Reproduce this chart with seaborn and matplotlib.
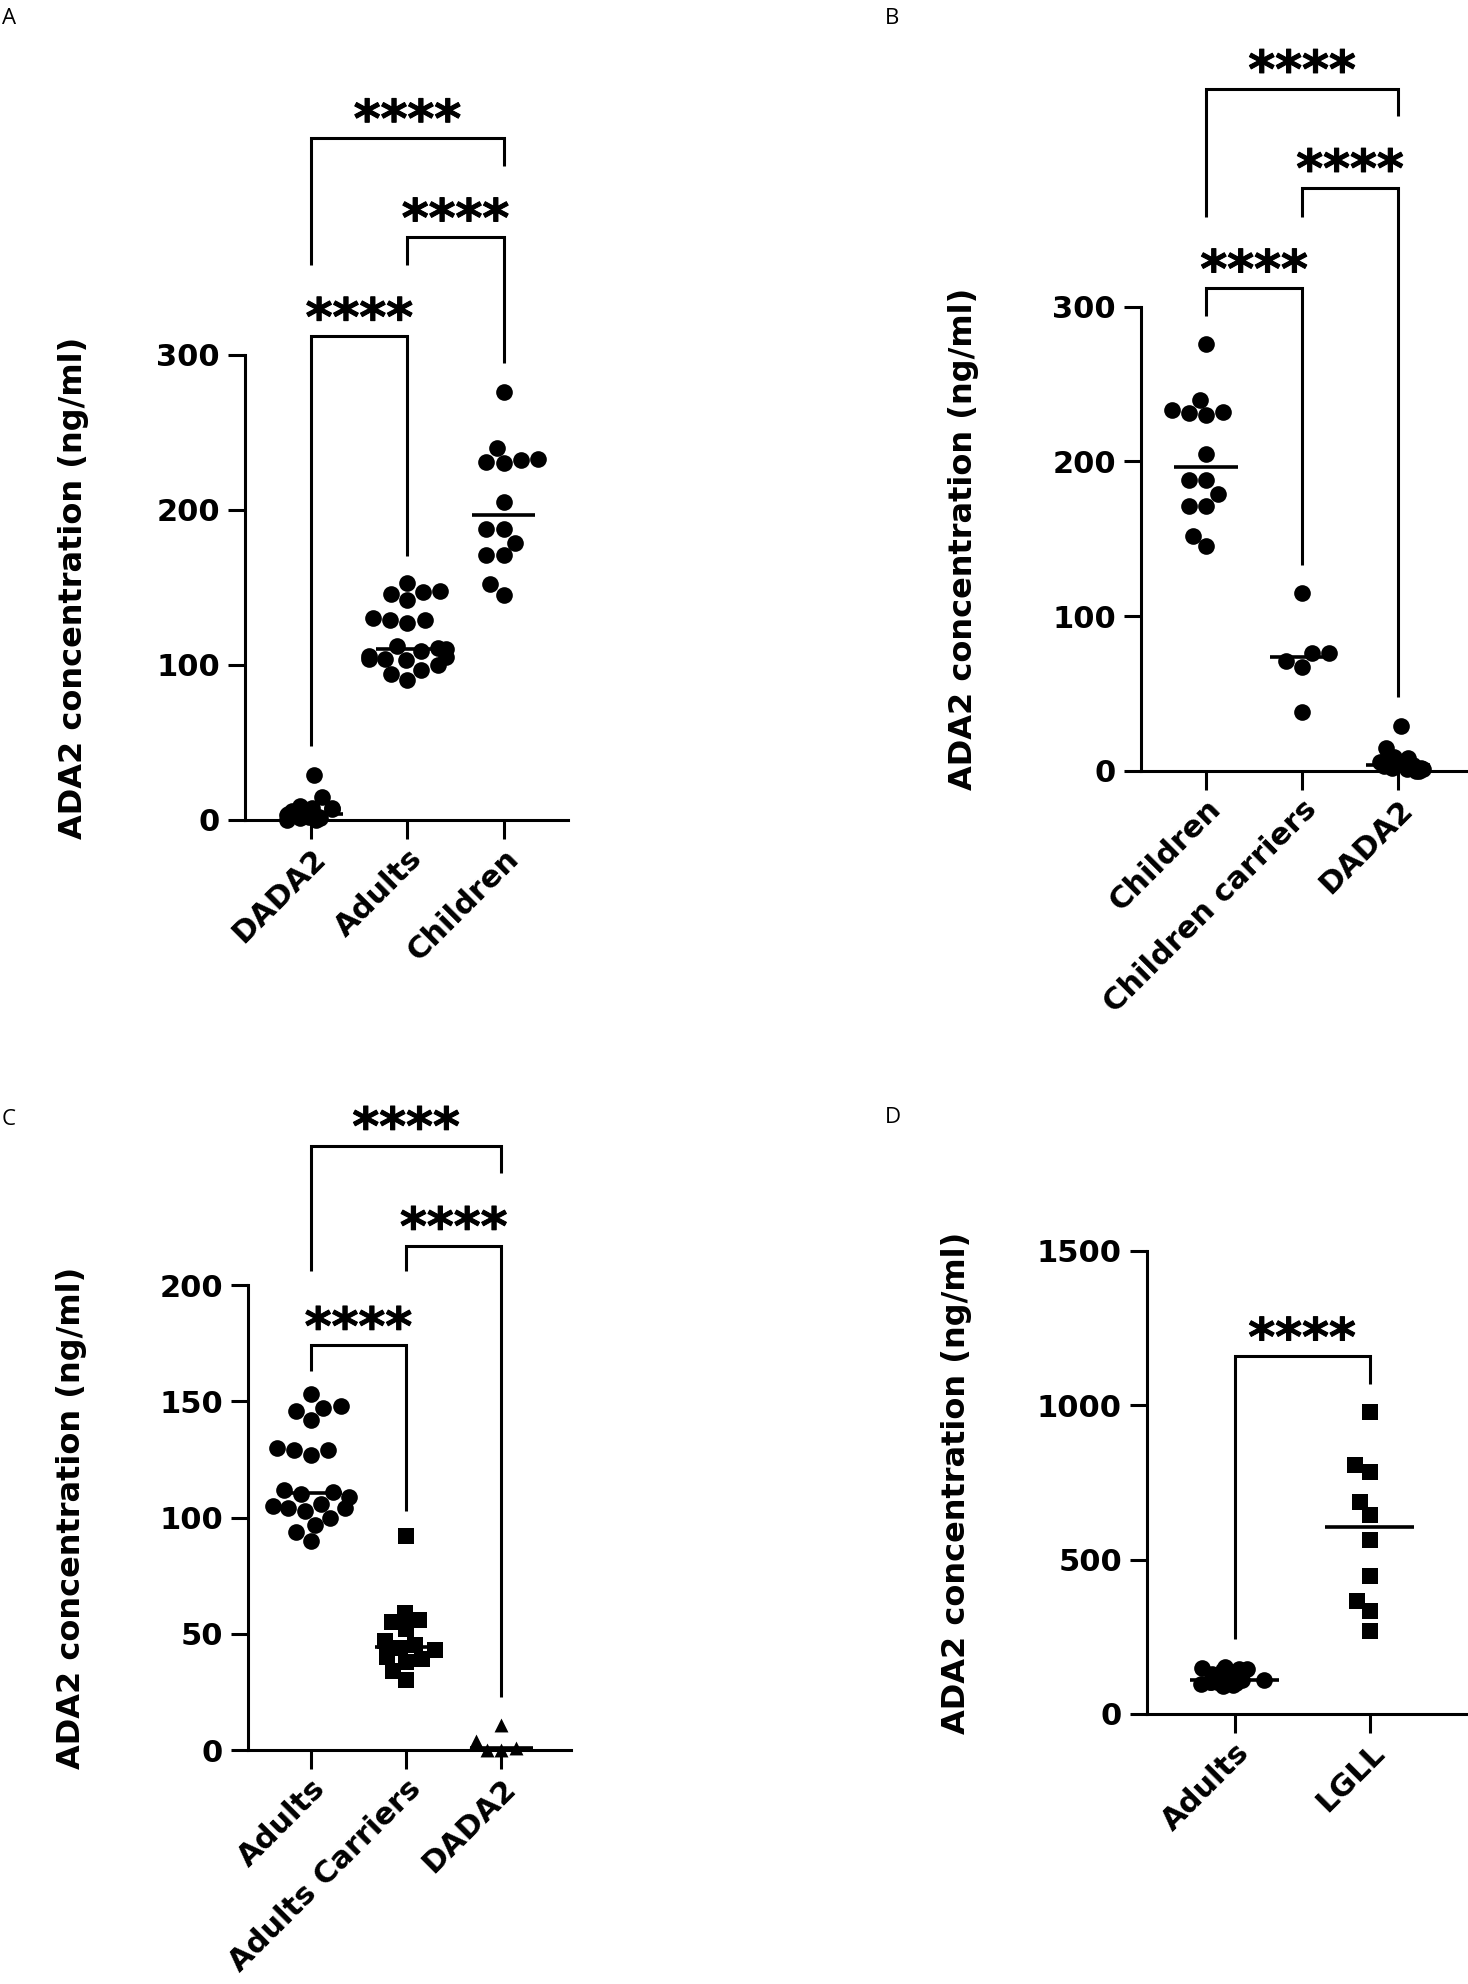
import numpy as np
import pandas as pd
import matplotlib
matplotlib.use("Agg")
import matplotlib.pyplot as plt
import matplotlib.patheffects as pe
import seaborn as sns

# values (ng/ml)
adults = [153, 148, 147, 146, 142, 130, 129, 129, 127, 112, 111, 110, 109, 106, 105,
          104, 104, 103, 100, 97, 94, 90]
children = [276, 240, 233, 232, 231, 230, 205, 188, 188, 179, 171, 171, 152, 145]
dada2 = [29, 15, 9, 8, 8, 7, 6, 5, 4, 4, 3, 2, 2, 1, 1, 0, 0]
children_carriers = [115, 76, 76, 71, 67, 38]
adults_carriers = [92, 59, 56, 55, 52, 47, 45, 44, 43, 40, 39, 38, 34, 30]
dada2_small = [11, 4, 1, 0, 0]
lgll = [979, 807, 784, 686, 646, 565, 446, 367, 335, 270]

groups_a = ["DADA2", "Adults", "Children"]
groups_b = ["Children", "Children carriers", "DADA2"]
groups_c = ["Adults", "Adults Carriers", "DADA2"]
groups_d = ["Adults", "LGLL"]

yticks_a = [0, 100, 200, 300]
yticks_c = [0, 50, 100, 150, 200]
yticks_d = [0, 500, 1000, 1500]

# significance brackets: (group i, group j, bar height, leg end i, leg end j)
brackets_a = [(0, 1, 312, 48, 170), (1, 2, 376, 358, 295), (0, 2, 440, 358, 422)]
brackets_b = [(0, 1, 312, 294, 133), (1, 2, 377, 358, 48), (0, 2, 441, 358, 423)]
brackets_c = [(0, 1, 174, 163, 103), (1, 2, 217, 206, 23), (0, 2, 260, 206, 248)]
brackets_d = [(0, 1, 1159, 243, 1069)]

sns.set_theme(style="ticks")
plt.rcParams["font.family"] = ["DejaVu Sans"]
plt.rcParams.update({"text.color": "black", "axes.labelcolor": "black",
                     "xtick.color": "black", "ytick.color": "black",
                     "axes.edgecolor": "black"})
np.random.seed(3)

LW = 2.2
MARKER_SIZE = {"o": 12, "s": 11, "^": 10}


def draw_panel(ax, groups, series, markers, yticks, xlim, brackets, label_x,
               packed=None):
    packed = packed or {}
    df = pd.DataFrame({
        "group": np.concatenate([[g] * len(v) for g, v in zip(groups, series)]),
        "value": np.concatenate([np.asarray(v, dtype=float) for v in series]),
    })
    for k, (g, m) in enumerate(zip(groups, markers)):
        sub = df[df["group"] == g]
        if k in packed:
            # dense groups overlap in the original, like a jittered strip
            sns.stripplot(data=sub, x="group", y="value", order=groups,
                          jitter=packed[k], marker=m, size=MARKER_SIZE[m],
                          color="black", linewidth=0, ax=ax)
        else:
            sns.swarmplot(data=sub, x="group", y="value", order=groups,
                          marker=m, size=MARKER_SIZE[m], color="black", linewidth=0,
                          warn_thresh=1, ax=ax)
    for coll in ax.collections:
        coll.set_clip_on(False)
        coll.set_zorder(3)

    # median line
    sns.boxplot(data=df, x="group", y="value", order=groups, width=0.66,
                showbox=False, showcaps=False, showfliers=False,
                whiskerprops={"visible": False},
                medianprops={"color": "black", "linewidth": 2.6, "zorder": 4},
                ax=ax)

    ax.set_xlim(*xlim)
    ax.set_ylim(yticks[0], yticks[-1])
    ax.set_yticks(yticks)
    ax.set_yticklabels([str(t) for t in yticks], fontsize=22, fontweight="bold")
    ax.set_xticks(range(len(groups)))
    ax.set_xticklabels(groups, rotation=45, ha="right", rotation_mode="anchor",
                       fontsize=22, fontweight="bold")
    ax.set_xlabel("")
    ax.set_ylabel("ADA2 concentration (ng/ml)", fontsize=23, fontweight="bold")
    ax.yaxis.set_label_coords(label_x, 0.5)

    sns.despine(ax=ax)
    for side in ["left", "bottom"]:
        ax.spines[side].set_linewidth(LW)
    ax.tick_params(axis="y", length=12, width=LW, pad=6, left=True)
    ax.tick_params(axis="x", length=14, width=LW, pad=3, bottom=True)
    ax.set_facecolor("white")

    for i, j, h, li, lj in brackets:
        ax.plot([i, i, j, j], [li, h, h, lj], color="black", lw=LW, clip_on=False,
                solid_joinstyle="miter", solid_capstyle="butt")
        ax.annotate("****", xy=((i + j) / 2, h), xytext=(0, 1),
                    textcoords="offset points", ha="center", va="baseline",
                    fontsize=37, fontweight="bold", annotation_clip=False,
                    path_effects=[pe.withStroke(linewidth=0.7, foreground="black")])


fig = plt.figure(figsize=(14.68, 19.84), dpi=100)
fig.patch.set_facecolor("white")

ax_a = fig.add_axes([0.1669, 0.5867, 0.2200, 0.2344])
ax_b = fig.add_axes([0.7772, 0.6115, 0.2228, 0.2339])
ax_c = fig.add_axes([0.1689, 0.1179, 0.2200, 0.2344])
ax_d = fig.add_axes([0.7813, 0.1361, 0.2187, 0.2334])

draw_panel(ax_a, groups_a, [dada2, adults, children], ["o", "o", "o"],
           yticks_a, (-0.69, 2.67), brackets_a, -0.483, packed={0: 0.27})
draw_panel(ax_b, groups_b, [children, children_carriers, dada2], ["o", "o", "o"],
           yticks_a, (-0.68, 2.73), brackets_b, -0.496, packed={2: 0.27})
draw_panel(ax_c, groups_c, [adults, adults_carriers, dada2_small], ["o", "s", "^"],
           yticks_c, (-0.66, 2.73), brackets_c, -0.498)
draw_panel(ax_d, groups_d, [adults, lgll], ["o", "s"],
           yticks_d, (-0.65, 1.73), brackets_d, -0.546, packed={0: 0.3})

for letter, x, y in [("A", 0.0014, 0.996), ("B", 0.603, 0.996),
                     ("C", 0.0014, 0.441), ("D", 0.603, 0.442)]:
    fig.text(x, y, letter, fontsize=16, family="Open Sans", ha="left", va="top")

fig.savefig("out.png", dpi=100, facecolor="white")
